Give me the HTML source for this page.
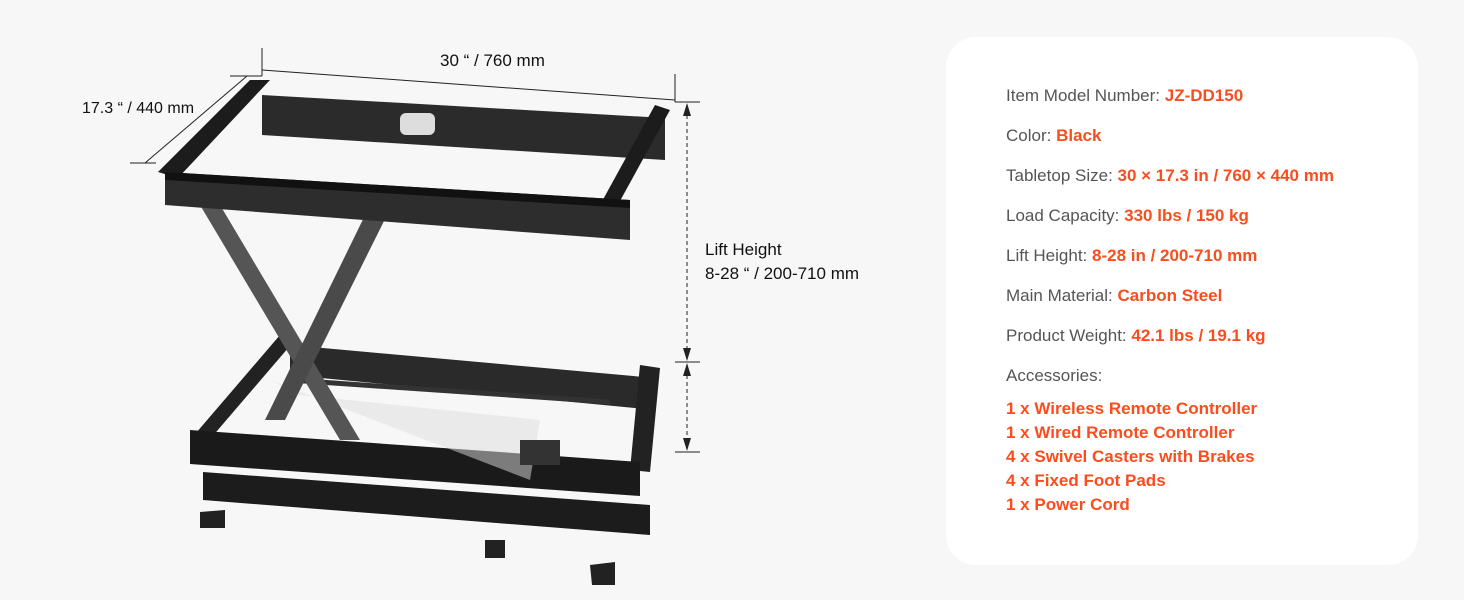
<!DOCTYPE html>
<html><head><meta charset="utf-8"><style>
html,body{margin:0;padding:0;}
body{width:1464px;height:600px;background:#f7f7f7;position:relative;overflow:hidden;font-family:"Liberation Sans",sans-serif;}
.card{position:absolute;left:946px;top:37px;width:472px;height:528px;background:#fff;border-radius:30px;}
.t{position:absolute;left:1006px;font-size:17px;color:#555;white-space:nowrap;}
.t b{color:#fa4d1e;font-weight:bold;}
.a{position:absolute;left:1006px;font-size:17px;color:#fa4d1e;font-weight:bold;white-space:nowrap;}
.d{position:absolute;font-size:17px;color:#111;white-space:nowrap;}
</style></head><body>
<div class="card"></div>
<div class="t" style="top:86px">Item Model Number: <b>JZ-DD150</b></div>
<div class="t" style="top:126px">Color: <b>Black</b></div>
<div class="t" style="top:166px">Tabletop Size: <b>30 × 17.3 in / 760 × 440 mm</b></div>
<div class="t" style="top:206px">Load Capacity: <b>330 lbs / 150 kg</b></div>
<div class="t" style="top:246px">Lift Height: <b>8-28 in / 200-710 mm</b></div>
<div class="t" style="top:286px">Main Material: <b>Carbon Steel</b></div>
<div class="t" style="top:326px">Product Weight: <b>42.1 lbs / 19.1 kg</b></div>
<div class="t" style="top:366px">Accessories:</div>
<div class="a" style="top:399px">1 x Wireless Remote Controller</div>
<div class="a" style="top:423px">1 x Wired Remote Controller</div>
<div class="a" style="top:447px">4 x Swivel Casters with Brakes</div>
<div class="a" style="top:471px">4 x Fixed Foot Pads</div>
<div class="a" style="top:495px">1 x Power Cord</div>

<div class="d" style="left:440px;top:51px">30 “ / 760 mm</div>
<div class="d" style="left:82px;top:100px;font-size:16px">17.3 “ / 440 mm</div>
<div class="d" style="left:705px;top:240px">Lift Height</div>
<div class="d" style="left:705px;top:264px">8-28 “ / 200-710 mm</div>

<svg width="1464" height="600" style="position:absolute;left:0;top:0">
<g stroke="#222" stroke-width="1" fill="none">
<line x1="262" y1="48" x2="262" y2="76"/><line x1="675" y1="74" x2="675" y2="102"/>
<line x1="262" y1="70" x2="675" y2="100"/>
<line x1="230" y1="76" x2="262" y2="76"/><line x1="130" y1="163" x2="156" y2="163"/>
<line x1="145" y1="163" x2="247" y2="76"/>
<line x1="675" y1="102" x2="700" y2="102"/><line x1="675" y1="362" x2="700" y2="362"/><line x1="675" y1="452" x2="700" y2="452"/>
<line x1="687" y1="108" x2="687" y2="356" stroke-dasharray="4,3"/>
<line x1="687" y1="368" x2="687" y2="446" stroke-dasharray="4,3"/>
</g>
<g fill="#222">
<polygon points="687,103 683,116 691,116"/><polygon points="687,361 683,348 691,348"/>
<polygon points="687,363 683,376 691,376"/><polygon points="687,451 683,438 691,438"/>
</g>
<!-- base -->
<polygon points="203,472 650,505 650,535 203,500" fill="#1c1c1c"/>
<polygon points="200,512 225,510 225,528 200,528" fill="#222"/>
<polygon points="590,565 615,562 615,585 592,585" fill="#222"/>
<rect x="485" y="540" width="20" height="18" fill="#222"/>
<!-- bottom frame -->
<polygon points="290,345 655,378 655,410 290,375" fill="#2a2a2a"/>
<polygon points="190,440 280,335 295,340 205,445" fill="#222"/>
<polygon points="630,470 640,365 660,368 650,472" fill="#222"/>
<polygon points="190,430 640,462 640,496 190,464" fill="#1a1a1a"/>
<polygon points="270,380 530,480 540,420 300,395" fill="#ddd" opacity="0.5"/>
<line x1="290" y1="380" x2="610" y2="402" stroke="#333" stroke-width="5"/>
<rect x="520" y="440" width="40" height="25" fill="#333"/>
<!-- scissor arms -->
<polygon points="200,205 220,205 360,440 340,440" fill="#555"/>
<polygon points="370,205 392,205 285,420 265,420" fill="#4a4a4a"/>
<!-- top frame -->
<polygon points="262,95 665,118 665,160 262,135" fill="#2b2b2b"/>
<polygon points="158,172 250,80 270,80 178,178" fill="#1c1c1c"/>
<polygon points="600,205 655,105 670,110 615,210" fill="#1c1c1c"/>
<polygon points="165,172 630,200 630,240 165,205" fill="#2d2d2d"/>
<polygon points="165,172 630,200 630,208 165,180" fill="#111"/>
<rect x="400" y="113" width="35" height="22" rx="6" fill="#ddd"/>
</svg>
</body></html>
